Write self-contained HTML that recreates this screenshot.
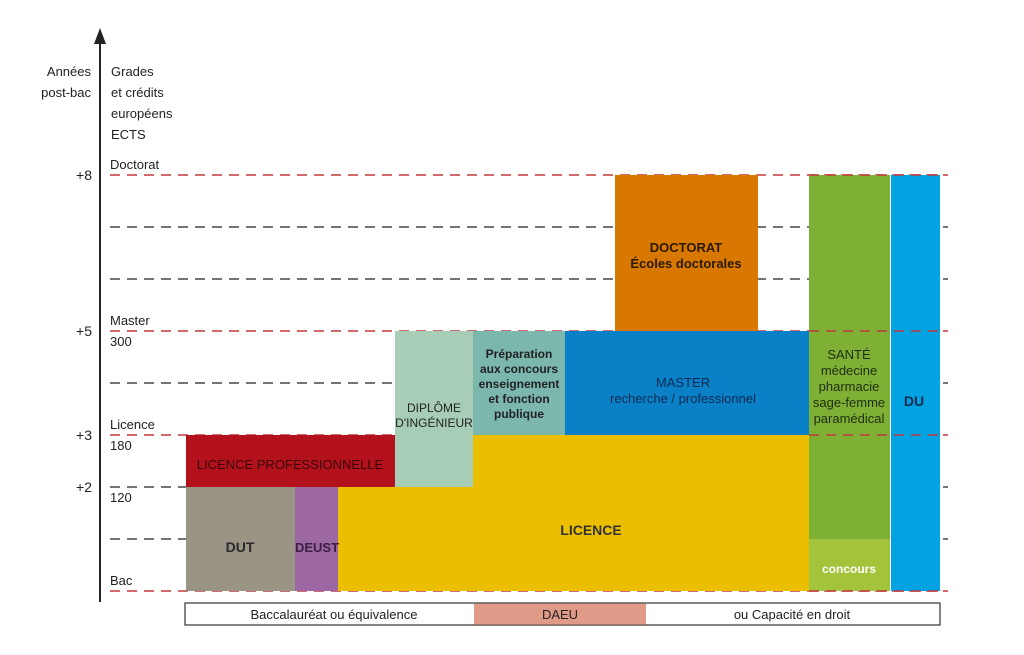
<!DOCTYPE html>
<html><head><meta charset="utf-8"><style>
body{margin:0;background:#fff}
svg{display:block;font-family:"Liberation Sans",sans-serif}
</style></head><body>
<svg id="c" width="1024" height="655" viewBox="0 0 1024 655"></svg>
<script>
const yearLevels=[0,1,2,3,4,5,6,7,8];
const redLevels=[0,3,5,8];
const yearLabels=[["+8",8],["+5",5],["+3",3],["+2",2]];
const gradeLabels=[["Doctorat",8,-1],["Master",5,-1],["300",5,1],["Licence",3,-1],["180",3,1],["120",2,1],["Bac",0,-1]];
const blockNames=["dut","deust","licence-pro","licence-a","licence-b","ingenieur","preparation","master","doctorat","sante","concours","du"];
const blockX0=[186,295,186,338,473,395,473,565,615,809,809,891];
const blockX1=[295,338,395,473,809,473,565,809,758,890,890,940];
const blockY0=[0,0,2,0,0,2,3,3,5,1,0,0];
const blockY1=[2,2,3,2,3,5,5,5,8,8,1,8];
const blockColors=["#9a9485","#9d67a4","#b3111c","#ebbf00","#ebbf00","#a7cdb7","#7cb7ae","#0a80c6","#d87800","#7db034","#a3c43a","#00a2e1"];
const svg=document.getElementById('c');
const NS="http://www.w3.org/2000/svg";
const y=v=>591-v*52;
function mk(t,a,p){const e=document.createElementNS(NS,t);for(const k in a)e.setAttribute(k,a[k]);(p||svg).appendChild(e);return e;}
// axis
const ax=mk('line',{x1:100,y1:40,x2:100,y2:602,stroke:'#222','stroke-width':2});


const ar=mk('polygon',{points:'100,28 94,44 106,44',fill:'#222'});


// grid lines
yearLevels.forEach(v=>{const red=redLevels.includes(v);
 const l=mk('line',{x1:110,x2:948,y1:y(v),y2:y(v),stroke:red?'#c0393b':'#222','stroke-width':red?1.6:1.2,'stroke-dasharray':'10,7'});
 
 });
function txt(s,x,yy,o){const t=mk('text',Object.assign({x:x,y:yy,'font-size':13,fill:'#222'},o||{}));t.textContent=s;return t;}
// headers
[["Années",73,76],["post-bac",64,97]].forEach(([s,a,b])=>{const t=txt(s,91,b,{'text-anchor':'end'});});
["Grades","et crédits","européens","ECTS"].forEach((s,i)=>{const t=txt(s,111,76+i*21);});
yearLabels.forEach(([s,v])=>{const t=txt(s,92,y(v)+5,{'text-anchor':'end','font-size':14});});
gradeLabels.forEach(([s,v,d])=>{const t=txt(s,110,d<0?y(v)-6:y(v)+15);});
// blocks
blockNames.forEach((n,i)=>{const r=mk('rect',{x:blockX0[i],y:y(blockY1[i]),width:blockX1[i]-blockX0[i],height:y(blockY0[i])-y(blockY1[i]),fill:blockColors[i]});
 
 });
// redraw red top lines on top of DU & santé edges
redLevels.forEach(v=>{const l=mk('line',{x1:809,x2:940,y1:y(v),y2:y(v),stroke:'#c0393b','stroke-width':1.6,'stroke-dasharray':'10,7'});});
// block labels
const labels=[
 [240,552,["DUT"],"#2a2a2a",14,600],[317,552,["DEUST"],"#3a1f40",13,600],
 [290,469,["LICENCE PROFESSIONNELLE"],"#3a0608",13,400],[591,535,["LICENCE"],"#333",14,600],
 [434,412,["DIPLÔME","D'INGÉNIEUR"],"#222",12,400],[519,358,["Préparation","aux concours","enseignement","et fonction","publique"],"#222",12,600],
 [683,387,["MASTER","recherche / professionnel"],"#0a2a50",13,400],[686,252,["DOCTORAT","Écoles doctorales"],"#2a1a00",13,600],
 [849,359,["SANTÉ","médecine","pharmacie","sage-femme","paramédical"],"#1e2e10",13,400],[849,573,["concours"],"#fff",12,600],[914,406,["DU"],"#0a2a50",14,600]];
labels.forEach(([x,yy,ls,c,fs,fw])=>{ls.forEach((s,i)=>{const t=txt(s,x,yy+i*(fs+3),{'text-anchor':'middle',fill:c,'font-size':fs,'font-weight':fw});});});
// bottom bar
const bb=mk('rect',{x:185,y:603,width:755,height:22,fill:'#fff',stroke:'#333','stroke-width':1.2});


const da=mk('rect',{x:474,y:603.6,width:172,height:21,fill:'#e09a88'});


[["Baccalauréat ou équivalence",334],["DAEU",560],["ou Capacité en droit",792]].forEach(([s,x])=>{const t=txt(s,x,619,{'text-anchor':'middle','font-size':13});});
</script>
</body></html>
